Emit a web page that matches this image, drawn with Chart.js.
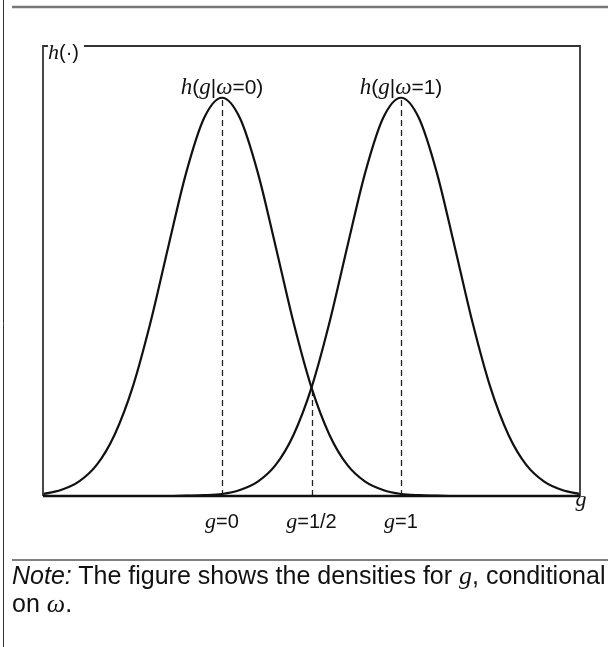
<!DOCTYPE html>
<html>
<head>
<meta charset="utf-8">
<script src="https://cdn.jsdelivr.net/npm/chart.js@4"></script>
<style>
  html, body { margin: 0; padding: 0; background: #fff; }
  #wrap { position: relative; width: 608px; height: 647px; overflow: hidden; }
  #myChart { position: absolute; left: 0; top: 0; }
  .note { position: absolute; left: 12px; font-family: "Liberation Sans", Arial, sans-serif; font-size: 25px; line-height: 26px; white-space: nowrap; color: #111; }
  .m { font-family: "Liberation Serif", "Times New Roman", serif; font-style: italic; font-size: 26px; }
</style>
</head>
<body>
<div id="wrap">
  <canvas id="myChart" width="608" height="647"></canvas>
  <div class="note" style="top:562px"><i>Note:</i> The figure shows the densities for <span class="m">g</span>, conditional</div>
  <div class="note" style="top:590px">on <span class="m">ω</span>.</div>
</div>
<script>
// g grid and the two conditional densities
const gValues = [-1.0, -0.9, -0.8, -0.7, -0.6, -0.5, -0.4, -0.3, -0.2, -0.1,
                 0.0, 0.1, 0.2, 0.3, 0.4, 0.5, 0.6, 0.7, 0.8, 0.9,
                 1.0, 1.1, 1.2, 1.3, 1.4, 1.5, 1.6, 1.7, 1.8, 1.9, 2.0];
const densityOmega0 = [0.005, 0.015, 0.036, 0.078, 0.154, 0.272, 0.435, 0.626, 0.812, 0.949,
                       1.0, 0.949, 0.812, 0.626, 0.435, 0.272, 0.154, 0.078, 0.036, 0.015,
                       0.005, 0.002, 0.001, 0, 0, 0, 0, 0, 0, 0, 0];
const densityOmega1 = [0, 0, 0, 0, 0, 0, 0, 0, 0.001, 0.002,
                       0.005, 0.015, 0.036, 0.078, 0.154, 0.272, 0.435, 0.626, 0.812, 0.949,
                       1.0, 0.949, 0.812, 0.626, 0.435, 0.272, 0.154, 0.078, 0.036, 0.015, 0.005];
const tickValues = [0, 0.5, 1];
const tickLabels = ['=0', '=1/2', '=1'];
const peakLabels = ['=0)', '=1)'];
const crossValue = 0.272;

const SANS = '"Liberation Sans", Arial, sans-serif';
const SERIF = '"Liberation Serif", "Times New Roman", serif';

function toPoints(ys) {
  return gValues.map((g, i) => ({ x: g, y: ys[i] }));
}

function drawRuns(c, runs, x, y, align) {
  let w = 0;
  runs.forEach(r => { c.font = r[1]; w += c.measureText(r[0]).width; });
  let cx = align === 'left' ? x : x - w / 2;
  runs.forEach(r => { c.font = r[1]; c.fillText(r[0], cx, y); cx += c.measureText(r[0]).width; });
}

const dashedLines = {
  id: 'dashedLines',
  beforeDatasetsDraw(chart) {
    const c = chart.ctx, xs = chart.scales.x, ys = chart.scales.y;
    const base = ys.getPixelForValue(0);
    c.save();
    c.strokeStyle = '#222';
    c.lineWidth = 1.3;
    c.setLineDash([6, 4]);
    [[0, 1], [1, 1], [0.5, crossValue]].forEach(p => {
      const px = Math.round(xs.getPixelForValue(p[0])) + 0.5;
      c.beginPath();
      c.moveTo(px, base);
      c.lineTo(px, ys.getPixelForValue(p[1]));
      c.stroke();
    });
    c.restore();
  }
};

const frame = {
  id: 'frame',
  afterDraw(chart) {
    const c = chart.ctx, a = chart.chartArea, xs = chart.scales.x, ys = chart.scales.y;
    c.save();
    // outer page lines
    c.strokeStyle = '#333';
    c.lineWidth = 1;
    c.beginPath(); c.moveTo(3.5, 0); c.lineTo(3.5, 647); c.stroke();
    c.strokeStyle = '#777';
    c.lineWidth = 2.5;
    c.beginPath(); c.moveTo(12, 7); c.lineTo(608, 7); c.stroke();
    c.strokeStyle = '#555';
    c.lineWidth = 1.5;
    c.beginPath(); c.moveTo(12, 560); c.lineTo(608, 560); c.stroke();

    // plot box
    c.strokeStyle = '#333';
    c.lineWidth = 1.8;
    c.beginPath();
    c.moveTo(a.left, a.bottom); c.lineTo(a.left, a.top); c.lineTo(a.left + 5, a.top);
    c.moveTo(84, a.top); c.lineTo(a.right, a.top); c.lineTo(a.right, a.bottom);
    c.stroke();
    c.strokeStyle = '#111';
    c.lineWidth = 2.6;
    c.beginPath(); c.moveTo(a.left, a.bottom); c.lineTo(a.right, a.bottom); c.stroke();

    c.fillStyle = '#111';
    c.textBaseline = 'alphabetic';
    // y label
    drawRuns(c, [['h', 'italic 22px ' + SERIF], ['(·)', '20px ' + SANS]], 48, 59, 'left');
    // x label
    drawRuns(c, [['g', 'italic 22px ' + SERIF]], 581, 506);
    // tick labels
    tickValues.forEach((v, i) => {
      drawRuns(c, [['g', 'italic 22px ' + SERIF], [tickLabels[i], '20px ' + SANS]], xs.getPixelForValue(v), 528);
    });
    // peak labels
    [0, 1].forEach((v, i) => {
      drawRuns(c, [['h', 'italic 23px ' + SERIF], ['(', '21px ' + SANS], ['g', 'italic 23px ' + SERIF], ['|', '21px ' + SANS],
                   ['ω', 'italic 23px ' + SERIF], [peakLabels[i], '21px ' + SANS]],
               xs.getPixelForValue(v), ys.getPixelForValue(1) - 4);
    });
    c.restore();
  }
};

const ctx = document.getElementById('myChart');
const graph = new Chart(ctx, {
  type: 'line',
  data: {
    datasets: [
      { data: toPoints(densityOmega0), borderColor: '#111', borderWidth: 2.2, pointRadius: 0, cubicInterpolationMode: 'monotone', fill: false },
      { data: toPoints(densityOmega1), borderColor: '#111', borderWidth: 2.2, pointRadius: 0, cubicInterpolationMode: 'monotone', fill: false }
    ]
  },
  options: {
    responsive: false,
    animation: false,
    devicePixelRatio: 1,
    layout: { padding: { left: 43, right: 28, top: 46, bottom: 151 } },
    plugins: { legend: { display: false }, tooltip: { enabled: false } },
    scales: {
      x: { type: 'linear', min: -1, max: 2, display: false },
      y: { min: 0, max: 1.13, display: false }
    }
  },
  plugins: [dashedLines, frame]
});
</script>
</body>
</html>
